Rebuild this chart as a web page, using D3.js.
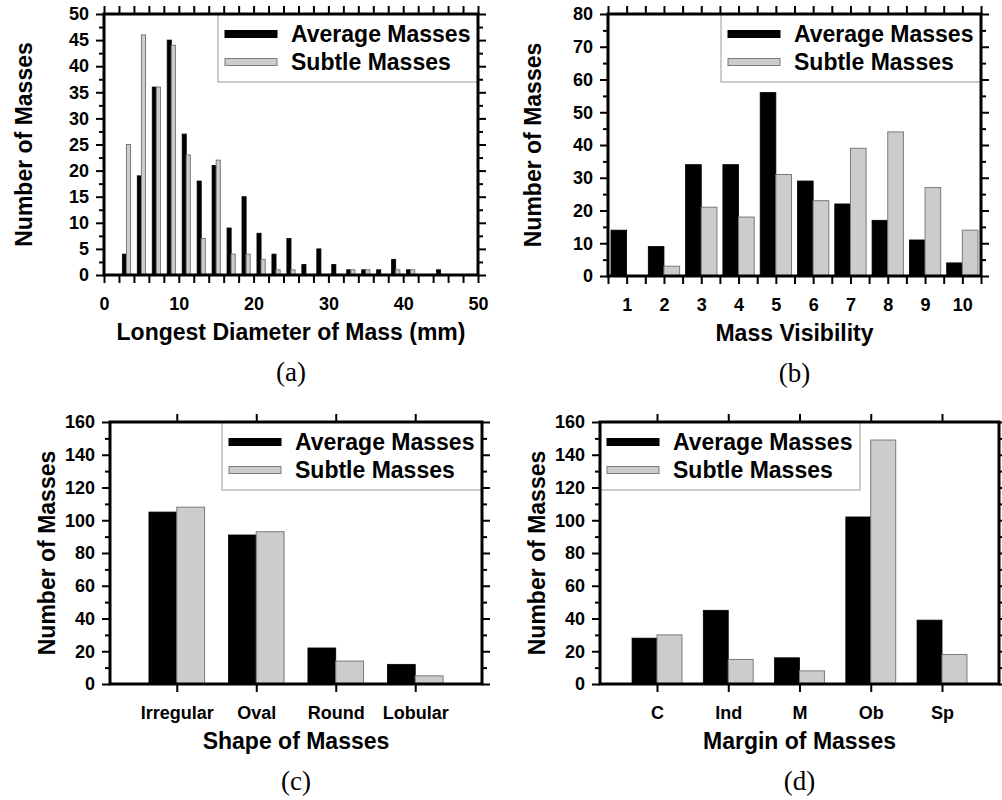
<!DOCTYPE html>
<html>
<head>
<meta charset="utf-8">
<script src="https://d3js.org/d3.v7.min.js"></script>
<style>
    body { margin: 0; background: #fff; }
    svg { display: block; }
</style>
</head>
<body>
<script>
/* Data */
/* **** */
var seriesNames = ['Average Masses', 'Subtle Masses'];

// (a) longest diameter, 2 mm bins centred on odd values
var diamBins = [3, 5, 7, 9, 11, 13, 15, 17, 19, 21, 23, 25, 27, 29, 31, 33, 35, 37, 39, 41, 43, 45];
var diamAverage = [4, 19, 36, 45, 27, 18, 21, 9, 15, 8, 4, 7, 2, 5, 2, 1, 1, 1, 3, 1, 0, 1];
var diamSubtle = [25, 46, 36, 44, 23, 7, 22, 4, 4, 3, 1, 1, 0, 0, 0, 1, 1, 0, 1, 1, 0, 0];

// (b) mass visibility
var visLevels = [1, 2, 3, 4, 5, 6, 7, 8, 9, 10];
var visAverage = [14, 9, 34, 34, 56, 29, 22, 17, 11, 4];
var visSubtle = [0, 3, 21, 18, 31, 23, 39, 44, 27, 14];

// (c) shape
var shapeNames = ['Irregular', 'Oval', 'Round', 'Lobular'];
var shapeAverage = [105, 91, 22, 12];
var shapeSubtle = [108, 93, 14, 5];

// (d) margin
var marginNames = ['C', 'Ind', 'M', 'Ob', 'Sp'];
var marginAverage = [28, 45, 16, 102, 39];
var marginSubtle = [30, 15, 8, 149, 18];

/* Drawing */
/* ******* */
var SANS = "'Liberation Sans', Arial, Helvetica, sans-serif";
var SERIF = "'Liberation Serif', 'Times New Roman', serif";

var svg = d3.select('body')
    .append('svg')
    .attr('width', 1002)
    .attr('height', 800);

function styleAxis(sel) {
    sel.select('.domain').remove();
    sel.attr('font-family', SANS)
        .attr('font-size', 18)
        .attr('font-weight', 'bold');
    sel.selectAll('line')
        .attr('stroke', '#000')
        .attr('stroke-width', 2);
    sel.selectAll('text').attr('fill', '#000');
    return sel;
}

function drawPanel(p) {
    var g = svg.append('g');

    var x = d3.scaleLinear().domain(p.xDomain).range([p.left, p.right]);
    var y = d3.scaleLinear().domain(p.yDomain).range([p.bottom, p.top]);

    var rows = p.positions.map(function (pos, i) {
        return {pos: pos, avg: p.average[i], sub: p.subtle[i]};
    });

    // Average masses sit left of the position, subtle ones right of it
    g.selectAll('rect.avg')
        .data(rows.filter(function (d) { return d.avg > 0; }))
        .enter()
        .append('rect')
        .attr('class', 'avg')
        .attr('x', function (d) { return x(d.pos - p.barWidth); })
        .attr('width', function (d) { return x(d.pos) - x(d.pos - p.barWidth); })
        .attr('y', function (d) { return y(d.avg); })
        .attr('height', function (d) { return y(0) - y(d.avg); })
        .attr('fill', '#000')
        .attr('stroke', '#000')
        .attr('stroke-width', 0.8);

    g.selectAll('rect.sub')
        .data(rows.filter(function (d) { return d.sub > 0; }))
        .enter()
        .append('rect')
        .attr('class', 'sub')
        .attr('x', function (d) { return x(d.pos); })
        .attr('width', function (d) { return x(d.pos + p.barWidth) - x(d.pos); })
        .attr('y', function (d) { return y(d.sub); })
        .attr('height', function (d) { return y(0) - y(d.sub); })
        .attr('fill', '#cccccc')
        .attr('stroke', '#7a7a7a')
        .attr('stroke-width', 1);

    // Legend
    var lw = 260, lh = 68;
    var lx = p.legendSide === 'left' ? p.left : p.right - lw;
    var leg = g.append('g').attr('transform', 'translate(' + lx + ',' + p.top + ')');
    leg.append('rect')
        .attr('width', lw)
        .attr('height', lh)
        .attr('fill', '#fff')
        .attr('stroke', '#999')
        .attr('stroke-width', 1);
    seriesNames.forEach(function (name, i) {
        var cy = 20 + i * 28;
        leg.append('rect')
            .attr('x', 7)
            .attr('y', cy - 3.5)
            .attr('width', 52)
            .attr('height', 7)
            .attr('fill', i === 0 ? '#000' : '#cccccc')
            .attr('stroke', i === 0 ? '#000' : '#7a7a7a')
            .attr('stroke-width', 1);
        leg.append('text')
            .attr('x', 73)
            .attr('y', cy + 8)
            .attr('font-family', SANS)
            .attr('font-size', 23)
            .attr('font-weight', 'bold')
            .attr('fill', '#000')
            .text(name);
    });

    // Axes on all four sides
    styleAxis(g.append('g')
        .attr('transform', 'translate(' + p.left + ',0)')
        .call(d3.axisLeft(y).tickValues(p.yMinor).tickSize(5).tickFormat('')));
    styleAxis(g.append('g')
        .attr('transform', 'translate(' + p.left + ',0)')
        .call(d3.axisLeft(y).tickValues(p.yMajor).tickSize(8).tickPadding(7)));
    styleAxis(g.append('g')
        .attr('transform', 'translate(' + p.right + ',0)')
        .call(d3.axisRight(y).tickValues(p.yMinor).tickSize(5).tickFormat('')));
    styleAxis(g.append('g')
        .attr('transform', 'translate(' + p.right + ',0)')
        .call(d3.axisRight(y).tickValues(p.yMajor).tickSize(8).tickFormat('')));
    styleAxis(g.append('g')
        .attr('transform', 'translate(0,' + p.bottom + ')')
        .call(d3.axisBottom(x).tickValues(p.xTicks).tickSize(8).tickPadding(14).tickFormat(p.xFormat)));
    styleAxis(g.append('g')
        .attr('transform', 'translate(0,' + p.top + ')')
        .call(d3.axisTop(x).tickValues(p.xTicks).tickSize(8).tickFormat('')));

    // Frame
    g.append('rect')
        .attr('x', p.left)
        .attr('y', p.top)
        .attr('width', p.right - p.left)
        .attr('height', p.bottom - p.top)
        .attr('fill', 'none')
        .attr('stroke', '#000')
        .attr('stroke-width', 3);

    // Titles
    var cx = (p.left + p.right) / 2;
    g.append('text')
        .attr('x', cx)
        .attr('y', p.bottom + 65)
        .attr('text-anchor', 'middle')
        .attr('font-family', SANS)
        .attr('font-size', 23)
        .attr('font-weight', 'bold')
        .text(p.xTitle);
    g.append('text')
        .attr('transform', 'translate(' + p.yTitleX + ',' + (p.top + p.bottom) / 2 + ') rotate(-90)')
        .attr('text-anchor', 'middle')
        .attr('dy', '0.36em')
        .attr('font-family', SANS)
        .attr('font-size', 23)
        .attr('font-weight', 'bold')
        .text('Number of Masses');
    g.append('text')
        .attr('x', cx)
        .attr('y', p.bottom + 106)
        .attr('text-anchor', 'middle')
        .attr('font-family', SERIF)
        .attr('font-size', 27)
        .text(p.caption);
}

drawPanel({
    left: 104, right: 478, top: 14, bottom: 275,
    xDomain: [0, 50], yDomain: [0, 50],
    xTicks: d3.range(0, 51, 2),
    xFormat: function (d) { return d % 10 === 0 ? d : ''; },
    yMajor: d3.range(0, 51, 5), yMinor: d3.range(2.5, 50, 5),
    positions: diamBins, average: diamAverage, subtle: diamSubtle,
    barWidth: 0.55, legendSide: 'right',
    xTitle: 'Longest Diameter of Mass (mm)', yTitleX: 24, caption: '(a)'
});

drawPanel({
    left: 608, right: 981, top: 14, bottom: 276,
    xDomain: [0.5, 10.5], yDomain: [0, 80],
    xTicks: d3.range(0.5, 10.51, 0.5),
    xFormat: function (d) { return Number.isInteger(d) ? d : ''; },
    yMajor: d3.range(0, 81, 10), yMinor: d3.range(5, 80, 10),
    positions: visLevels, average: visAverage, subtle: visSubtle,
    barWidth: 0.42, legendSide: 'right',
    xTitle: 'Mass Visibility', yTitleX: 533, caption: '(b)'
});

drawPanel({
    left: 110, right: 482, top: 422, bottom: 684,
    xDomain: [0.16, 4.84], yDomain: [0, 160],
    xTicks: shapeNames.map(function (d, i) { return i + 1; }),
    xFormat: function (d) { return shapeNames[d - 1]; },
    yMajor: d3.range(0, 161, 20), yMinor: d3.range(10, 160, 20),
    positions: shapeNames.map(function (d, i) { return i + 1; }),
    average: shapeAverage, subtle: shapeSubtle,
    barWidth: 0.35, legendSide: 'right',
    xTitle: 'Shape of Masses', yTitleX: 47, caption: '(c)'
});

drawPanel({
    left: 600, right: 999, top: 422, bottom: 684,
    xDomain: [0.2, 5.8], yDomain: [0, 160],
    xTicks: marginNames.map(function (d, i) { return i + 1; }),
    xFormat: function (d) { return marginNames[d - 1]; },
    yMajor: d3.range(0, 161, 20), yMinor: d3.range(10, 160, 20),
    positions: marginNames.map(function (d, i) { return i + 1; }),
    average: marginAverage, subtle: marginSubtle,
    barWidth: 0.35, legendSide: 'left',
    xTitle: 'Margin of Masses', yTitleX: 537, caption: '(d)'
});
</script>
</body>
</html>
